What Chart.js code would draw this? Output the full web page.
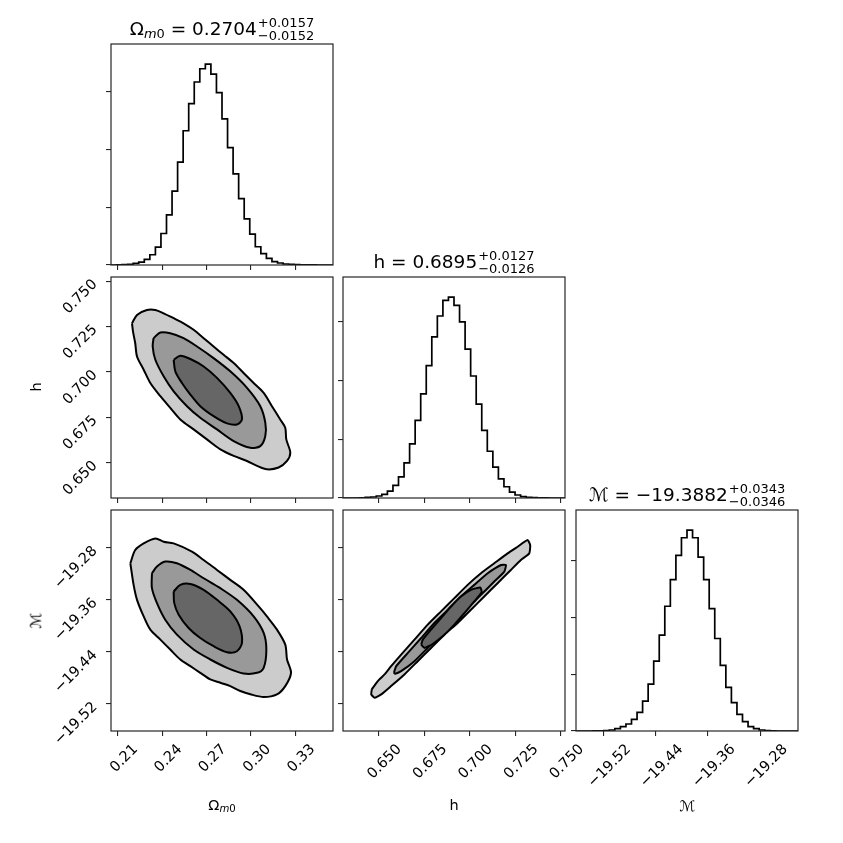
<!DOCTYPE html>
<html>
<head>
<meta charset="utf-8">
<script src="https://cdn.jsdelivr.net/npm/chart.js@4.4.1/dist/chart.umd.min.js"></script>
<style>
  html, body { margin: 0; padding: 0; background: #fff; }
  #fig { position: relative; width: 843px; height: 843px; overflow: hidden; font-family: 'DejaVu Sans', sans-serif; color: #000; }
  #fig canvas { position: absolute; }
  .ttl { position: absolute; white-space: nowrap; font-size: 18.5px; line-height: 22px; transform: translateX(-50%); }
  .sc { display: inline-block; vertical-align: -4.2px; font-size: 13px; line-height: 12.5px; margin-left: 1px; text-align: left; }
  .sc span { display: block; }
  .sb { font-size: 0.7em; line-height: 1; vertical-align: -0.2em; }
  .lab { position: absolute; white-space: nowrap; font-size: 14.5px; line-height: 1; transform: translate(-50%, -50%); }
  .lab.rot { transform: translate(-50%, -50%) rotate(-90deg); }
</style>
</head>
<body>
<div id="fig">
  <div class="ttl" style="left:222px; top:17px;">Ω<span class="sb"><i>m</i>0</span> = 0.2704<span class="sc"><span>+0.0157</span><span>−0.0152</span></span></div>
  <div class="ttl" style="left:454px; top:250px;">h = 0.6895<span class="sc"><span>+0.0127</span><span>−0.0126</span></span></div>
  <div class="ttl" style="left:687px; top:483px;">ℳ = −19.3882<span class="sc"><span>+0.0343</span><span>−0.0346</span></span></div>

  <div class="lab rot" style="left:36px; top:387px;">h</div>
  <div class="lab rot" style="left:36px; top:621px;">ℳ</div>
  <div class="lab" style="left:222px; top:806px;">Ω<span class="sb"><i>m</i>0</span></div>
  <div class="lab" style="left:454px; top:805px;">h</div>
  <div class="lab" style="left:687px; top:806px;">ℳ</div>
</div>

<script>
// axis ranges and tick values
const omegaRange = [0.2053, 0.3555];
const hRange = [0.6305, 0.7523];
const mRange = [-19.562, -19.222];
const omegaTicks = [0.21, 0.24, 0.27, 0.30, 0.33];
const hTicks = [0.650, 0.675, 0.700, 0.725, 0.750];
const mTicks = [-19.52, -19.44, -19.36, -19.28];
const countTicks = [0, 2000, 4000, 6000];

// 40-bin histogram counts (bins span the full axis range)
const omegaCounts = [0, 6, 11, 23, 57, 103, 195, 356, 620, 1092,
  1735, 2562, 3562, 4653, 5596, 6342, 6802, 6963, 6618, 5975,
  5067, 4067, 3160, 2298, 1597, 1069, 632, 391, 230, 115,
  69, 34, 23, 11, 6, 3, 1, 0, 0, 0];
const hCounts = [0, 0, 0, 6, 23, 34, 68, 124, 237, 429,
  723, 1198, 1842, 2644, 3548, 4509, 5492, 6204, 6735, 6848,
  6565, 6000, 5074, 4158, 3198, 2305, 1593, 1051, 655, 384,
  203, 102, 45, 23, 11, 5, 2, 0, 0, 0];
const mCounts = [0, 0, 0, 3, 6, 12, 35, 82, 152, 246,
  410, 655, 1053, 1650, 2457, 3370, 4388, 5324, 6178, 6798,
  7067, 6798, 6119, 5324, 4306, 3253, 2305, 1533, 995, 585,
  328, 152, 82, 35, 12, 5, 0, 0, 0, 0];

// contour levels, [x, y] pairs, outer / middle / inner
const omegaHOuter = [[0.2195,0.7268],[0.2229,0.7314],[0.2296,0.7341],[0.2353,0.7341],[0.2409,0.7323],
  [0.2477,0.7296],[0.2544,0.7268],[0.2612,0.7232],[0.2680,0.7186],[0.2747,0.7140],[0.2815,0.7094],
  [0.2883,0.7049],[0.2950,0.6994],[0.3018,0.6939],[0.3086,0.6884],[0.3142,0.6811],[0.3198,0.6738],
  [0.3232,0.6692],[0.3239,0.6628],[0.3266,0.6555],[0.3244,0.6509],[0.3187,0.6473],[0.3108,0.6463],
  [0.3041,0.6482],[0.2973,0.6509],[0.2883,0.6537],[0.2793,0.6573],[0.2702,0.6628],[0.2612,0.6683],
  [0.2522,0.6738],[0.2454,0.6802],[0.2387,0.6866],[0.2319,0.6939],[0.2274,0.7012],[0.2229,0.7085],
  [0.2217,0.7158],[0.2202,0.7222]];
const omegaHMiddle = [[0.2341,0.7186],[0.2387,0.7217],[0.2454,0.7213],[0.2544,0.7186],[0.2635,0.7140],
  [0.2747,0.7076],[0.2860,0.7003],[0.2973,0.6912],[0.3063,0.6811],[0.3097,0.6720],[0.3097,0.6647],
  [0.3063,0.6591],[0.2996,0.6582],[0.2883,0.6619],[0.2770,0.6683],[0.2657,0.6747],[0.2567,0.6811],
  [0.2477,0.6893],[0.2409,0.6976],[0.2353,0.7067],[0.2335,0.7140]];
const omegaHInner = [[0.2477,0.7067],[0.2522,0.7089],[0.2590,0.7071],[0.2680,0.7030],[0.2770,0.6967],
  [0.2860,0.6884],[0.2917,0.6811],[0.2939,0.6738],[0.2905,0.6710],[0.2838,0.6716],[0.2747,0.6756],
  [0.2657,0.6811],[0.2590,0.6875],[0.2533,0.6939],[0.2488,0.7003]];

const omegaMOuter = [[0.2184,-19.3040],[0.2217,-19.2836],[0.2274,-19.2734],[0.2353,-19.2657],[0.2409,-19.2708],
  [0.2477,-19.2734],[0.2601,-19.2861],[0.2680,-19.2989],[0.2770,-19.3142],[0.2860,-19.3295],[0.2950,-19.3448],
  [0.3052,-19.3704],[0.3108,-19.3857],[0.3176,-19.4061],[0.3232,-19.4291],[0.3244,-19.4520],[0.3271,-19.4725],
  [0.3232,-19.4929],[0.3176,-19.5056],[0.3086,-19.5097],[0.2996,-19.5056],[0.2928,-19.5005],[0.2860,-19.4929],
  [0.2793,-19.4878],[0.2725,-19.4827],[0.2657,-19.4725],[0.2590,-19.4623],[0.2522,-19.4520],[0.2454,-19.4367],
  [0.2387,-19.4214],[0.2319,-19.4061],[0.2274,-19.3857],[0.2229,-19.3602],[0.2206,-19.3372]];
const omegaMMiddle = [[0.2330,-19.3193],[0.2364,-19.3091],[0.2420,-19.3014],[0.2499,-19.3040],[0.2590,-19.3142],
  [0.2680,-19.3270],[0.2793,-19.3423],[0.2905,-19.3602],[0.3018,-19.3857],[0.3086,-19.4112],[0.3104,-19.4367],
  [0.3086,-19.4648],[0.3041,-19.4725],[0.2950,-19.4735],[0.2838,-19.4648],[0.2725,-19.4520],[0.2612,-19.4367],
  [0.2499,-19.4138],[0.2420,-19.3908],[0.2364,-19.3653],[0.2330,-19.3423]];
const omegaMInner = [[0.2477,-19.3474],[0.2522,-19.3372],[0.2590,-19.3357],[0.2680,-19.3448],[0.2770,-19.3602],
  [0.2860,-19.3780],[0.2923,-19.4010],[0.2939,-19.4265],[0.2905,-19.4393],[0.2838,-19.4408],[0.2747,-19.4316],
  [0.2657,-19.4189],[0.2578,-19.4035],[0.2511,-19.3831],[0.2481,-19.3653]];

const hMOuter = [[0.6463,-19.4980],[0.6496,-19.4852],[0.6533,-19.4750],[0.6569,-19.4623],[0.6624,-19.4444],
  [0.6697,-19.4214],[0.6770,-19.3984],[0.6843,-19.3780],[0.6916,-19.3576],[0.6989,-19.3372],[0.7062,-19.3193],
  [0.7135,-19.3040],[0.7208,-19.2887],[0.7263,-19.2785],[0.7318,-19.2683],[0.7332,-19.2759],[0.7327,-19.2887],
  [0.7281,-19.2989],[0.7226,-19.3142],[0.7153,-19.3346],[0.7080,-19.3550],[0.7007,-19.3755],[0.6934,-19.3959],
  [0.6861,-19.4138],[0.6788,-19.4342],[0.6715,-19.4546],[0.6642,-19.4750],[0.6569,-19.4929],[0.6515,-19.5057],
  [0.6478,-19.5108],[0.6460,-19.5057]];
const hMMiddle = [[0.6584,-19.4725],[0.6597,-19.4623],[0.6661,-19.4418],[0.6734,-19.4189],[0.6806,-19.3959],
  [0.6880,-19.3755],[0.6952,-19.3550],[0.7025,-19.3372],[0.7099,-19.3193],[0.7172,-19.3066],[0.7199,-19.3066],
  [0.7190,-19.3168],[0.7135,-19.3321],[0.7062,-19.3525],[0.6989,-19.3729],[0.6916,-19.3933],[0.6843,-19.4138],
  [0.6770,-19.4342],[0.6697,-19.4546],[0.6624,-19.4699],[0.6591,-19.4740]];
const hMInner = [[0.6734,-19.4291],[0.6743,-19.4214],[0.6788,-19.4061],[0.6843,-19.3882],[0.6898,-19.3704],
  [0.6952,-19.3550],[0.7007,-19.3448],[0.7058,-19.3413],[0.7066,-19.3484],[0.7025,-19.3627],[0.6971,-19.3806],
  [0.6916,-19.3984],[0.6861,-19.4138],[0.6797,-19.4281],[0.6752,-19.4342]];

const levelColors = ['#cccccc', '#999999', '#666666'];

const GRID_LEFT = [111, 343, 576];
const GRID_TOP = [44, 277, 510];
const BOX_W = 222, BOX_H = 221;
const PAD = 40, AXIS_W = 110, AXIS_H = 100;
const SPINE = '#262626';

const fmtOmega = v => v.toFixed(2);
const fmtH = v => v.toFixed(3);
const fmtM = v => v.toFixed(2).replace('-', '\u2212');

const framePlugin = {
  id: 'frame',
  afterDraw(chart) {
    const {ctx, chartArea: a} = chart;
    ctx.save();
    ctx.strokeStyle = SPINE;
    ctx.lineWidth = 1.2;
    ctx.strokeRect(a.left, a.top, a.right - a.left, a.bottom - a.top);
    ctx.restore();
  }
};

function axis(range, ticks, fmt, showLabels, isX, labelOffset) {
  return {
    type: 'linear',
    bounds: 'data',
    min: range[0],
    max: range[1],
    afterBuildTicks: s => { s.ticks = ticks.map(v => ({value: v})); },
    afterFit: s => {
      if (isX) s.height = AXIS_H; else s.width = AXIS_W;
      s.paddingLeft = s.paddingRight = s.paddingTop = s.paddingBottom = 0;
    },
    border: {display: false},
    grid: {drawOnChartArea: false, drawTicks: true, tickLength: 5, color: SPINE, lineWidth: 1.1},
    ticks: {
      autoSkip: false,
      minRotation: 45,
      maxRotation: 45,
      padding: isX ? 5 : 11,
      labelOffset: labelOffset,
      color: '#000',
      font: {family: 'DejaVu Sans', size: 14.5},
      callback: v => showLabels ? fmt(v) : ''
    }
  };
}

function histDataset(range, counts) {
  const w = (range[1] - range[0]) / counts.length;
  const pts = [{x: range[0], y: 0}];
  counts.forEach((c, i) => pts.push({x: range[0] + i * w, y: c}));
  pts.push({x: range[1], y: 0});
  return {data: pts, stepped: 'before', borderColor: '#000', borderWidth: 1.7, pointRadius: 0, fill: false};
}

function contourDatasets(levels, tension) {
  return levels.map((pairs, i) => {
    const pts = pairs.map(p => ({x: p[0], y: p[1]}));
    pts.push({x: pairs[0][0], y: pairs[0][1]});
    return {
      data: pts,
      fill: 'shape',
      backgroundColor: levelColors[i],
      borderColor: '#000',
      borderWidth: 2,
      pointRadius: 0,
      tension: tension,
      order: levels.length - i
    };
  });
}

function panel(col, row, datasets, xScale, yScale) {
  const canvas = document.createElement('canvas');
  canvas.width = AXIS_W + BOX_W + PAD;
  canvas.height = PAD + BOX_H + AXIS_H;
  canvas.style.left = (GRID_LEFT[col] - AXIS_W) + 'px';
  canvas.style.top = (GRID_TOP[row] - PAD) + 'px';
  document.getElementById('fig').prepend(canvas);
  new Chart(canvas, {
    type: 'line',
    data: {datasets},
    options: {
      responsive: false,
      animation: false,
      events: [],
      layout: {padding: {left: 0, top: PAD, right: PAD, bottom: 0}},
      plugins: {legend: {display: false}, tooltip: {enabled: false}},
      scales: {x: xScale, y: yScale}
    },
    plugins: [framePlugin]
  });
}

const countRange = c => [0, 1.1 * Math.max(...c)];

panel(0, 0, [histDataset(omegaRange, omegaCounts)],
  axis(omegaRange, omegaTicks, fmtOmega, false, true, 17.6),
  axis(countRange(omegaCounts), countTicks, null, false, false, 1));
panel(0, 1, contourDatasets([omegaHOuter, omegaHMiddle, omegaHInner], 0.3),
  axis(omegaRange, omegaTicks, fmtOmega, false, true, 17.6),
  axis(hRange, hTicks, fmtH, true, false, 1));
panel(1, 1, [histDataset(hRange, hCounts)],
  axis(hRange, hTicks, fmtH, false, true, 20.8),
  axis(countRange(hCounts), countTicks, null, false, false, 1));
panel(0, 2, contourDatasets([omegaMOuter, omegaMMiddle, omegaMInner], 0.3),
  axis(omegaRange, omegaTicks, fmtOmega, true, true, 17.6),
  axis(mRange, mTicks, fmtM, true, false, 1));
panel(1, 2, contourDatasets([hMOuter, hMMiddle, hMInner], 0.15),
  axis(hRange, hTicks, fmtH, true, true, 20.8),
  axis(mRange, mTicks, fmtM, false, false, 1));
panel(2, 2, [histDataset(mRange, mCounts)],
  axis(mRange, mTicks, fmtM, true, true, 25.2),
  axis(countRange(mCounts), countTicks, null, false, false, 1));
</script>
</body>
</html>
